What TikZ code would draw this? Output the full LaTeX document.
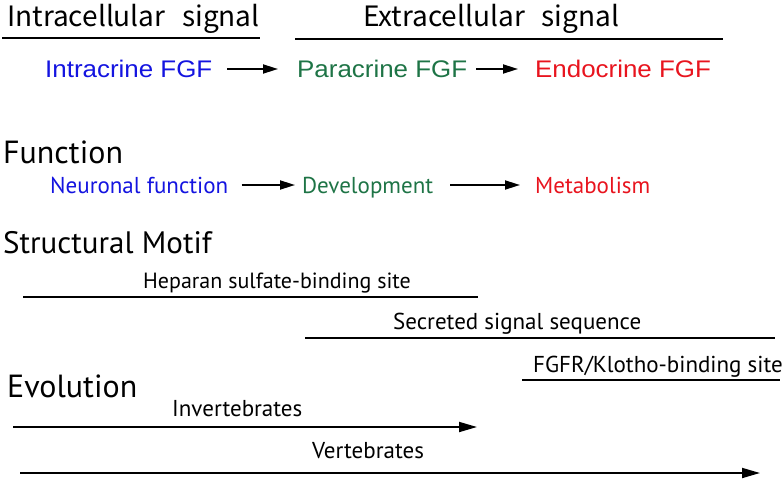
\documentclass[tikz,border=0pt]{standalone}
\usepackage{fontspec}
\setmainfont{Liberation Sans}
\newfontfamily\headfont{Noto Sans CJK JP}
\newfontfamily\fgffont[FakeStretch=1.08]{Liberation Sans}
\newfontfamily\motiffont{PT Sans}
\usepackage{xcolor}
\definecolor{intraBlue}{HTML}{1414E0}
\definecolor{paraGreen}{HTML}{1E7446}
\definecolor{endoRed}{HTML}{E8141E}
\usepackage{tikz}
\usetikzlibrary{arrows.meta}

\begin{document}
\begin{tikzpicture}[
    x=1pt, y=-1pt,
    signalhead/.style={
        anchor=base west,
        inner sep=0pt,
        font=\headfont\fontsize{28}{31}\selectfont
    },
    fgfname/.style={
        anchor=base west,
        inner sep=0pt,
        text height=16pt,
        text depth=0pt,
        font=\fgffont\fontsize{24}{28}\selectfont
    },
    sectionhead/.style={
        anchor=base west,
        inner sep=0pt,
        font=\motiffont\fontsize{32}{36}\selectfont
    },
    funcname/.style={
        anchor=base west,
        inner sep=0pt,
        text height=16pt,
        text depth=0pt,
        font=\motiffont\fontsize{23}{27}\selectfont
    },
    motiflabel/.style={
        anchor=base west,
        inner sep=0pt,
        font=\motiffont\fontsize{23}{27}\selectfont
    },
    bar/.style={line width=1.8pt},
    flow/.style={line width=1.8pt, -{Triangle[length=15pt,width=9pt]}}
]
\useasboundingbox (0,0) rectangle (784,479);

% signal type
\node[signalhead] (intracell) at (7,27) {Intracellular\hspace{0.6em}signal};
\node[signalhead] (extracell) at (363,27) {Extracellular\hspace{0.6em}signal};
\coordinate (intra-l) at (2,38);
\coordinate (intra-r) at (260,38);
\coordinate (extra-l) at (295,39);
\coordinate (extra-r) at (723,39);
\draw[bar] (intra-l) -- (intra-r);
\draw[bar] (extra-l) -- (extra-r);

\node[fgfname, text=intraBlue] (intracrine) at (45,77) {Intracrine FGF};
\node[fgfname, text=paraGreen] (paracrine) at (297,77) {Paracrine FGF};
\node[fgfname, text=endoRed] (endocrine) at (535,77) {Endocrine FGF};

\draw[flow, shorten <=15pt, shorten >=19pt] (intracrine) -- (paracrine);
\draw[flow, shorten <=9pt, shorten >=17pt] (paracrine) -- (endocrine);

% function
\node[sectionhead] (funchead) at (3,163) {Function};
\node[funcname, text=intraBlue] (neuronal) at (50,193) {Neuronal function};
\node[funcname, text=paraGreen] (develop) at (302,193) {Development};
\node[funcname, text=endoRed] (metab) at (535,193) {Metabolism};

\draw[flow, shorten <=13pt, shorten >=7pt] (neuronal) -- (develop);
\draw[flow, shorten <=17pt, shorten >=15pt] (develop) -- (metab);

% structural motif
\node[sectionhead, font=\motiffont\fontsize{31}{35}\selectfont] (motifhead) at (3,253) {Structural Motif};

\node[motiflabel, font=\motiffont\fontsize{22}{26}\selectfont] (heparan) at (143,288) {Heparan sulfate-binding site};
\coordinate (hs-l) at (23,297);
\coordinate (hs-r) at (478,297);
\draw[bar] (hs-l) -- (hs-r);

\node[motiflabel] (secreted) at (393,329) {Secreted signal sequence};
\coordinate (ss-l) at (305,338);
\coordinate (ss-r) at (775,338);
\draw[bar] (ss-l) -- (ss-r);

\node[motiflabel] (klotho) at (533,372) {FGFR/Klotho-binding site};
\coordinate (kb-l) at (522,380);
\coordinate (kb-r) at (780,380);
\draw[bar] (kb-l) -- (kb-r);

% evolution
\node[sectionhead] (evohead) at (7,397) {Evolution};

\node[motiflabel] (invert) at (172,416) {Invertebrates};
\coordinate (inv-l) at (13,427);
\coordinate (inv-r) at (477,427);
\draw[flow, -{Triangle[length=18pt,width=10pt]}] (inv-l) -- (inv-r);

\node[motiflabel] (vert) at (312,458) {Vertebrates};
\coordinate (vert-l) at (20,473);
\coordinate (vert-r) at (760,473);
\draw[flow, -{Triangle[length=18pt,width=10pt]}] (vert-l) -- (vert-r);
\end{tikzpicture}
\end{document}
